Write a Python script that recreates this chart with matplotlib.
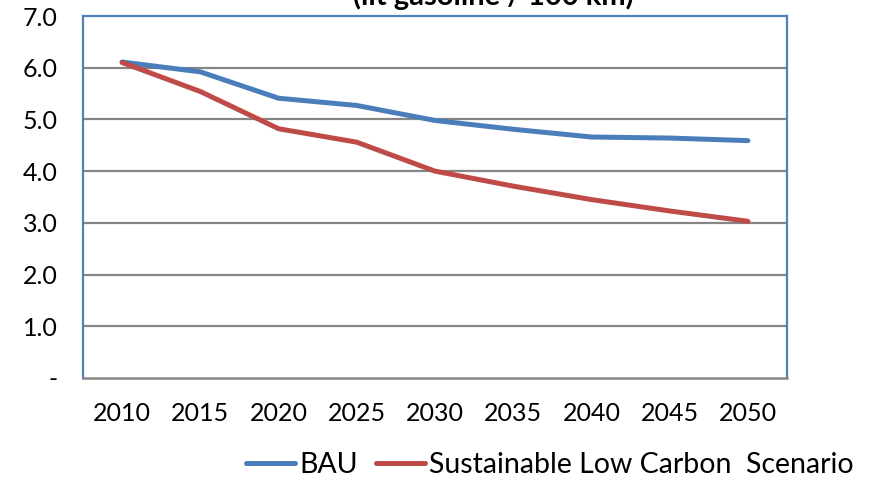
import matplotlib.pyplot as plt

plt.rcParams['font.family'] = ['Lato', 'DejaVu Sans']

# data
years = ["2010", "2015", "2020", "2025", "2030", "2035", "2040", "2045", "2050"]
bau = [6.11, 5.92, 5.41, 5.27, 4.98, 4.81, 4.66, 4.64, 4.59]
low_carbon = [6.10, 5.54, 4.82, 4.56, 4.00, 3.71, 3.45, 3.23, 3.03]
y_ticks = [0, 1, 2, 3, 4, 5, 6, 7]
y_labels = ["-", "1.0", "2.0", "3.0", "4.0", "5.0", "6.0", "7.0"]

blue = "#4A7EBB"
red = "#BE4B48"
grid = "#868686"

fig = plt.figure(figsize=(8.79, 4.79), dpi=100)
ax = fig.add_axes([83 / 879, 1 - 378 / 479, (787 - 83) / 879, (378 - 16) / 479])

x = range(len(years))
ax.plot(x, bau, color=blue, lw=3.6, solid_capstyle="round", label="BAU", zorder=3)
ax.plot(x, low_carbon, color=red, lw=3.6, solid_capstyle="round",
        label="Sustainable Low Carbon  Scenario", zorder=3)

ax.set_xlim(-0.5, len(years) - 0.5)
ax.set_ylim(0, 7)
ax.set_xticks(list(x))
ax.set_xticklabels(years)
ax.set_yticks(y_ticks)
ax.set_yticklabels(y_labels)
ax.tick_params(axis="both", length=0, labelsize=18, colors="black")
ax.tick_params(axis="x", pad=17)
ax.tick_params(axis="y", pad=18)
for lab in ax.get_yticklabels():
    lab.set_va("center_baseline")

for v in y_ticks[1:-1]:
    ax.axhline(v, color=grid, lw=1.6, zorder=1)

for s in ["left", "top", "right"]:
    ax.spines[s].set_color("#4F81BD")
    ax.spines[s].set_linewidth(1.6)
ax.spines["bottom"].set_color(grid)
ax.spines["bottom"].set_linewidth(1.8)

# title cut off at the top of the image
fig.text(0.561, 1 - 5 / 479, "(lit gasoline / 100 km)", ha="center", va="baseline",
         fontsize=21, fontweight="bold")

fig.legend(loc="center", bbox_to_anchor=(550 / 879, 1 - 465 / 479), ncol=2, frameon=False,
           fontsize=20.5, handlelength=1.7, handletextpad=0.15, columnspacing=0.65,
           borderpad=0)

fig.savefig("out.png", dpi=100)
